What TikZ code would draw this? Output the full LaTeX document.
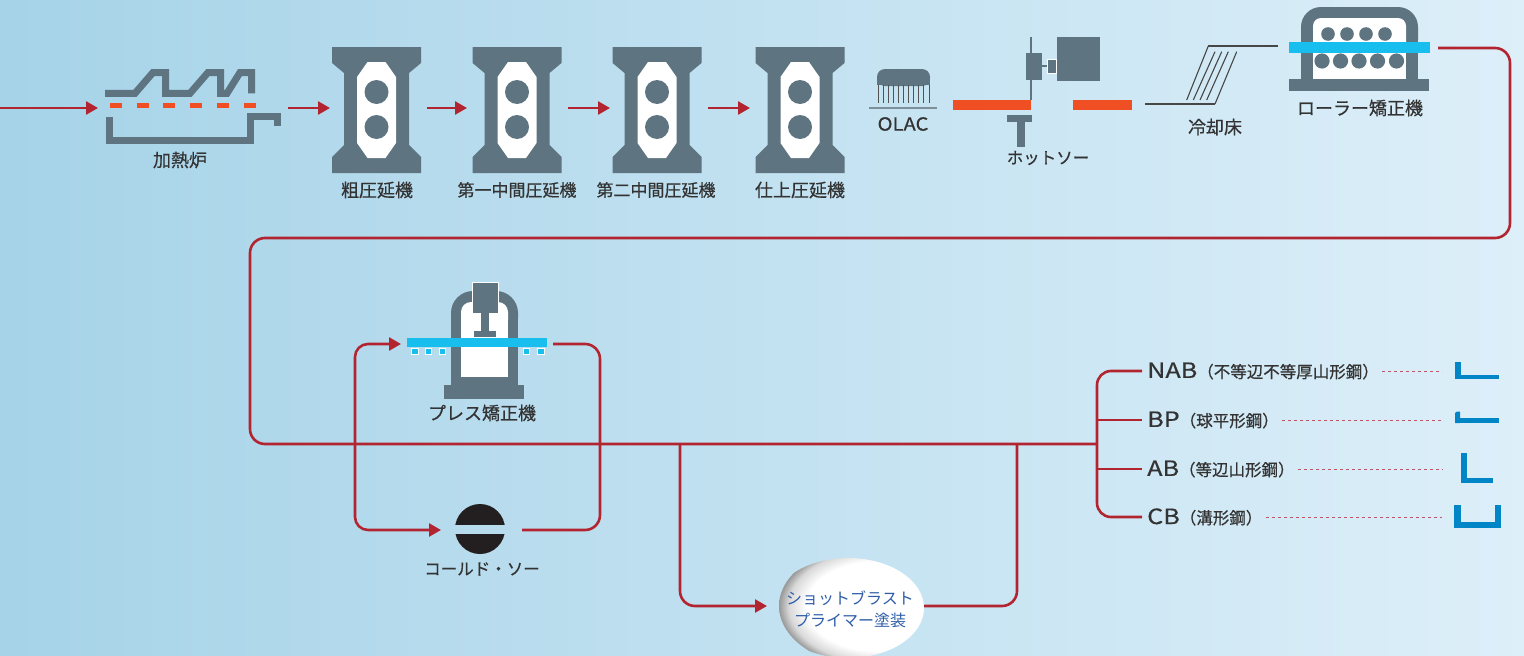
\documentclass[tikz,border=0pt]{standalone}
\usepackage{fontspec}
\setmainfont[FakeBold=0.5]{Noto Sans CJK JP}
\newfontfamily\plainfont{Noto Sans CJK JP}
\usetikzlibrary{arrows.meta}

\definecolor{bgl}{RGB}{166,211,232}
\definecolor{bgr}{RGB}{221,239,249}
\definecolor{slate}{RGB}{94,116,128}
\definecolor{conred}{RGB}{178,36,48}
\definecolor{hot}{RGB}{240,78,35}
\definecolor{cyanbar}{RGB}{24,190,238}
\definecolor{prodblue}{RGB}{0,133,199}
\definecolor{txt}{RGB}{51,51,51}
\definecolor{dotpink}{RGB}{196,84,104}
\definecolor{blasttxt}{RGB}{47,93,168}
\definecolor{sawblack}{RGB}{35,31,32}

% white core with a grey rim, used for the shot-blast ellipse
\pgfdeclareradialshading{rim}{\pgfpoint{0bp}{0bp}}{color(0bp)=(white); color(18bp)=(white); color(22.5bp)=(gray!30); color(25bp)=(gray!80); color(50bp)=(gray!80)}

\tikzset{
  conn/.style={draw=conred, line width=2.6pt},
  arr/.style={conn, -{Triangle[length=12pt,width=13pt]}},
  lbl/.style={text=txt, inner sep=0pt, font=\fontsize{18}{20}\selectfont},
  lblnarrow/.style={lbl, font=\fontsize{17}{20}\selectfont},
  lblsmall/.style={lbl, font=\fontsize{16.5}{20}\selectfont},
  prodlbl/.style={text=txt, inner sep=0pt, anchor=west, font=\fontsize{16.5}{20}\selectfont},
  dots/.style={draw=dotpink, line width=1pt, dash pattern=on 3pt off 3pt},
  thinline/.style={draw=txt!90, line width=1.1pt},
  millstand/.pic={
    \fill[slate] (-44.5,-63) -- (44.5,-63) -- (44.5,-47) -- (32.5,-37) -- (32.5,35)
      -- (44.5,47) -- (44.5,63) -- (-44.5,63) -- (-44.5,47) -- (-32.5,35)
      -- (-32.5,-37) -- (-44.5,-47) -- cycle;
    \fill[white] (-9,-48) -- (9,-48) -- (19.5,-33) -- (19.5,33) -- (9,48)
      -- (-9,48) -- (-19.5,33) -- (-19.5,-33) -- cycle;
    \fill[slate] (0,-18) circle[radius=12pt] (0,17) circle[radius=12pt];
  }
}

\begin{document}
\begin{tikzpicture}[x=1pt,y=-1pt]
\useasboundingbox (0,0) rectangle (1524,656);
\shade[left color=bgl, right color=bgr] (0,0) rectangle (1524,656);

% ---------- reheating furnace ----------
\draw[slate, line width=7pt, line join=miter]
  (105,93.3) -- (135,93.3) -- (153,72.5) -- (165.5,72.5) -- (165.5,93.3)
  -- (190,93.3) -- (208,72.5) -- (220.5,72.5) -- (220.5,93.3) -- (227,93.3)
  -- (240,72.5) -- (251.5,72.5) -- (251.5,93.3);
\draw[hot, line width=5pt, dash pattern=on 12pt off 14.7pt] (110,105) -- (256,105);
\draw[slate, line width=7pt, line join=miter]
  (109,117) -- (109,140.5) -- (250,140.5) -- (250,116.5) -- (277,116.5) -- (277,126);
\node[lbl] (furnL) at (180,160) {加熱炉};

\coordinate (feed) at (0,108);
\coordinate (furnIn) at (98,108);
\coordinate (furnOut) at (288,108);
\draw[arr] (feed) -- (furnIn);

% ---------- rolling mills ----------
\pic at (376.5,110) {millstand};
\pic at (517,110) {millstand};
\pic at (657,110) {millstand};
\pic at (800,110) {millstand};
\node[lbl] (m1L) at (377,190) {粗圧延機};
\node[lblnarrow] (m2L) at (517,190) {第一中間圧延機};
\node[lblnarrow] (m3L) at (656,190) {第二中間圧延機};
\node[lbl] (m4L) at (800,190) {仕上圧延機};

\coordinate (m1In) at (330,108);
\coordinate (m1Out) at (427,108);
\coordinate (m2In) at (467,108);
\coordinate (m2Out) at (568,108);
\coordinate (m3In) at (610,108);
\coordinate (m3Out) at (708,108);
\coordinate (m4In) at (750,108);
\draw[arr] (furnOut) -- (m1In);
\draw[arr] (m1Out) -- (m2In);
\draw[arr] (m2Out) -- (m3In);
\draw[arr] (m3Out) -- (m4In);

% ---------- OLAC ----------
\fill[slate, rounded corners=8pt] (877,69) rectangle (930,86);
\fill[slate] (877,77) rectangle (930,85);
\foreach \i in {0,...,10}
  \draw[txt!85, line width=1pt] (878+\i*5.1,85) -- ++(0,18);
\draw[slate!80, line width=1.5pt] (869,108) -- (937,108);
\node[lbl] (olacL) at (903,124) {\scalebox{1.12}[1]{OLAC}};

% ---------- hot saw ----------
\fill[hot] (953,100) rectangle (1031,110);
\fill[hot] (1073,100) rectangle (1132,110);
\draw[slate, line width=1.5pt] (1031,37) -- (1031,100);
\fill[slate] (1026,53) rectangle (1042,80);
\draw[slate, line width=1.2pt] (1042,66) -- (1047,66);
\filldraw[fill=slate, draw=white, line width=0.6pt] (1047,59) rectangle (1056,73);
\fill[slate] (1057,37) rectangle (1100,81);
\fill[slate] (1007,115) rectangle (1032,122);
\fill[slate] (1017,122) rectangle (1025,147);
\node[lblsmall] (sawHotL) at (1048,158) {ホットソー};

% ---------- cooling bed ----------
\draw[thinline] (1145,104) -- (1215,104);
\draw[thinline] (1208,46) -- (1278,46);
\draw[thinline] (1208.3,46) -- (1186.7,100);
\draw[thinline] (1215,51.7) -- (1193.3,100);
\draw[thinline] (1221.7,51.7) -- (1200,100);
\draw[thinline] (1228.3,51.7) -- (1206.7,100);
\draw[thinline] (1236.7,51.7) -- (1215,104);
\node[lbl] (coolL) at (1215,127) {冷却床};

% ---------- roller leveller ----------
\fill[slate, rounded corners=20pt] (1301,7) rectangle (1418,60);
\fill[slate] (1301,40) rectangle (1418,85);
\fill[white, rounded corners=8pt] (1313,18) rectangle (1406,50);
\fill[white] (1313,35) rectangle (1406,79);
\foreach \x in {1328,1347,1366,1385}
  \fill[slate] (\x,34) circle[radius=6.8pt];
\foreach \x in {1322,1340.5,1359,1377.5,1396.5}
  \fill[slate] (\x,61) circle[radius=7.6pt];
\fill[cyanbar] (1289,42) rectangle (1430,53);
\fill[slate] (1289,79) rectangle (1429,91);
\node[lbl] (rlL) at (1360,108) {ローラー矯正機};

% ---------- main line ----------
\coordinate (rlOut) at (1438,48);
\coordinate (split) at (1097,444);
\draw[conn, rounded corners=15pt] (rlOut) -- (1510,48) -- (1510,238) -- (250,238)
  -- (250,444) -- (split);

% ---------- press leveller ----------
\fill[slate, rounded corners=22pt] (451,291) rectangle (518,340);
\fill[slate] (451,320) rectangle (518,386);
\fill[white, rounded corners=10pt] (461,302) rectangle (508,330);
\fill[white] (461,315) rectangle (508,377);
\fill[slate] (444,385) rectangle (524,399);
\filldraw[fill=slate, draw=white, line width=0.7pt] (472,282) rectangle (498,313);
\fill[slate] (481,313) rectangle (489,331);
\fill[slate] (474,331) rectangle (496,337);
\fill[cyanbar] (407,338) rectangle (547,347);
\foreach \x in {411.5,425,439,523,537.5}
  \filldraw[fill=cyanbar, draw=white, line width=0.6pt] (\x,348) rectangle ++(6.5,6.5);
\node[lbl] (pressL) at (482,413) {プレス矯正機};

% ---------- cold saw ----------
\begin{scope}
  \clip (450,500) rectangle (510,524);
  \fill[sawblack] (480,529) circle[radius=25pt];
\end{scope}
\begin{scope}
  \clip (450,534) rectangle (510,560);
  \fill[sawblack] (480,529) circle[radius=25pt];
\end{scope}
\node[lblsmall] (coldL) at (482,569) {コールド・ソー};

% press / cold saw loop
\coordinate (jL) at (355,444);
\coordinate (pressIn) at (401,344);
\coordinate (pressOut) at (553,344);
\coordinate (sawIn) at (441,530);
\coordinate (sawOut) at (522,530);
\draw[arr, rounded corners=13pt] (jL) -- (355,344) -- (pressIn);
\draw[arr, rounded corners=13pt] (jL) -- (355,530) -- (sawIn);
\draw[conn, rounded corners=15pt] (pressOut) -- (600,344) -- (600,530) -- (sawOut);

% ---------- shot blast / primer ----------
\begin{scope}
  \clip (848,608) ellipse [x radius=76pt, y radius=50pt];
  \shade[shading=rim] (876,606) ellipse [x radius=97pt, y radius=62pt];
\end{scope}
\node[text=blasttxt, inner sep=0pt, align=center,
      font=\plainfont\fontsize{16}{22}\selectfont] (blast) at (850,609)
      {ショットブラスト\\プライマー塗装};

\coordinate (jB) at (680,444);
\coordinate (blastIn) at (767,606);
\coordinate (blastOut) at (924,606);
\coordinate (jE) at (1017,444);
\draw[arr, rounded corners=15pt] (jB) -- (680,606) -- (blastIn);
\draw[conn, rounded corners=15pt] (blastOut) -- (1017,606) -- (jE);

% ---------- products ----------
\coordinate (nabIn) at (1142,371);
\coordinate (bpIn) at (1142,420);
\coordinate (abIn) at (1142,469);
\coordinate (cbIn) at (1142,517);
\draw[conn, rounded corners=14pt] (nabIn) -- (1097,371) -- (1097,517) -- (cbIn);
\draw[conn] (1097,420) -- (bpIn);
\draw[conn] (1097,469) -- (abIn);

\node[prodlbl] (nab) at (1147,371)
  {\scalebox{1.2}[1]{\fontsize{21}{24}\selectfont NAB}（不等辺不等厚山形鋼）};
\node[prodlbl] (bp) at (1147,420)
  {\scalebox{1.2}[1]{\fontsize{21}{24}\selectfont BP}（球平形鋼）};
\node[prodlbl] (ab) at (1147,469)
  {\scalebox{1.2}[1]{\fontsize{21}{24}\selectfont AB}（等辺山形鋼）};
\node[prodlbl] (cb) at (1147,517)
  {\scalebox{1.2}[1]{\fontsize{21}{24}\selectfont CB}（溝形鋼）};

\coordinate (nabEnd) at (1442,371);
\coordinate (bpEnd) at (1442,420);
\coordinate (abEnd) at (1442,469);
\coordinate (cbEnd) at (1442,517);
\draw[dots] ([xshift=3pt]nab.east) -- (nabEnd);
\draw[dots] ([xshift=3pt]bp.east) -- (bpEnd);
\draw[dots] ([xshift=3pt]ab.east) -- (abEnd);
\draw[dots] ([xshift=3pt]cb.east) -- (cbEnd);

% section profiles
\fill[prodblue] (1455,362) rectangle (1461,378);
\fill[prodblue] (1455,374.5) rectangle (1499,378.5);
\fill[prodblue] (1455,418) rectangle (1499,423);
\fill[prodblue] (1455,423) -- (1455,413) -- (1457,411.5) -- (1460,411.5) -- (1460,423) -- cycle;
\fill[prodblue] (1461,453) rectangle (1467,483);
\fill[prodblue] (1461,478) rectangle (1493,483);
\fill[prodblue] (1454,505) rectangle (1461,528);
\fill[prodblue] (1454,522) rectangle (1501,528);
\fill[prodblue] (1495,505) rectangle (1501,528);
\end{tikzpicture}
\end{document}
